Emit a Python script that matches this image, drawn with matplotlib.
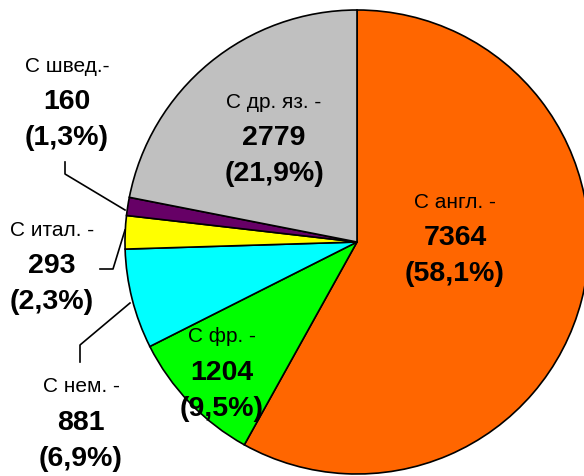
import matplotlib.pyplot as plt

names = ["С англ. -", "С фр. -", "С нем. -", "С итал. -", "С швед.-", "С др. яз. -"]
counts = [7364, 1204, 881, 293, 160, 2779]
colors = ["#FF6600", "#00FF00", "#00FFFF", "#FFFF00", "#660066", "#C0C0C0"]

plt.rcParams['font.family'] = ['Liberation Sans', 'DejaVu Sans']

W, H = 584, 476
fig = plt.figure(figsize=(W / 100, H / 100), dpi=100)
ax = fig.add_axes([0, 0, 1, 1])

ax.pie(counts, colors=colors, startangle=90, counterclock=False,
       center=(357, H - 242), radius=232,
       wedgeprops=dict(edgecolor='black', linewidth=1.2))
ax.set_xlim(0, W)
ax.set_ylim(0, H)
ax.set_aspect('equal')
ax.axis('off')

# label centres (pixel coords, y from top) for the first line of each label
label_pos = [(455, 202), (222, 337), (81, 387), (52, 230), (67, 66), (274, 102)]
total = sum(counts)
for name, n, (x, y) in zip(names, counts, label_pos):
    pct = f"({n / total * 100:.1f}%)".replace('.', ',')
    ax.text(x, H - y, name, ha='center', va='center', fontsize=15)
    ax.text(x, H - y - 36, str(n), ha='center', va='center', fontsize=20.5, fontweight='bold')
    ax.text(x, H - y - 72, pct, ha='center', va='center', fontsize=20.5, fontweight='bold')

# leader lines
leaders = [
    [(65, 162), (65, 174), (125, 210)],   # швед
    [(100, 269), (113, 269), (125, 230)],  # итал
    [(80, 362), (80, 345), (130, 303)],    # нем
]
for pts in leaders:
    xs = [p[0] for p in pts]
    ys = [H - p[1] for p in pts]
    ax.plot(xs, ys, color='black', linewidth=1.2)

fig.savefig('out.png', dpi=100)
